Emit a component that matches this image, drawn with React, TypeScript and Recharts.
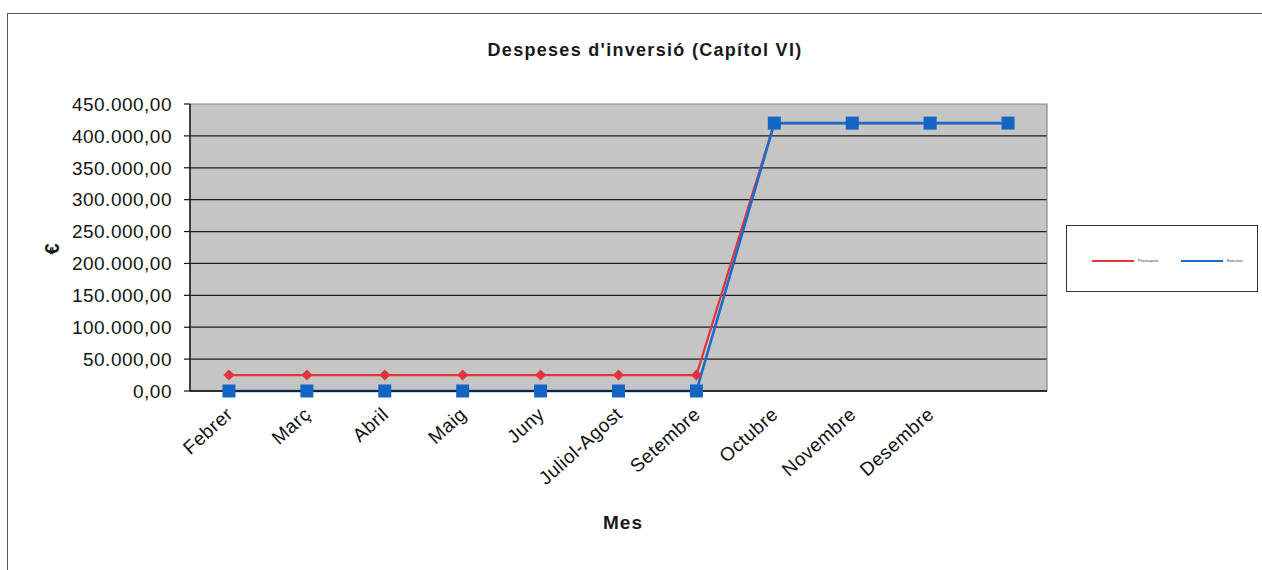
import React from 'react';
import { LineChart, Line, XAxis, YAxis, CartesianGrid, ReferenceArea } from 'recharts';

const months = ['Febrer', 'Març', 'Abril', 'Maig', 'Juny', 'Juliol-Agost', 'Setembre', 'Octubre', 'Novembre', 'Desembre', ''];
const pressupostValues = [25000, 25000, 25000, 25000, 25000, 25000, 25000, 420000, 420000, 420000, 420000];
const executatValues = [0, 0, 0, 0, 0, 0, 0, 420000, 420000, 420000, 420000];
const yTicks = [0, 50000, 100000, 150000, 200000, 250000, 300000, 350000, 400000, 450000];
const xBoundaries = [0, 1, 2, 3, 4, 5, 6, 7, 8, 9, 10, 11];
const seriesNames = ['Pressupost', 'Executat'];
const seriesColors = ['#e2353b', '#1b6cc9'];
const title = "Despeses d'inversió (Capítol VI)";
const xTitle = 'Mes';
const yTitle = '€';

const data = months.map((m, i) => ({
  pos: i + 0.5,
  month: m,
  pressupost: pressupostValues[i],
  executat: executatValues[i],
}));

const FONT = '"Liberation Sans", Arial, sans-serif';
const TOP = 104;

const fmt = (v: number) => v.toString().replace(/\B(?=(\d{3})+(?!\d))/g, '.') + ',00';

const CatTick = (props: any) => {
  const { x, y, payload } = props;
  const idx = Math.floor(payload.value);
  const label = months[idx] ?? '';
  return (
    <g transform={`translate(${x + 5},${y + 22}) rotate(-42)`}>
      <text x={0} y={0} textAnchor="end" fontSize={19} letterSpacing={0.5} fill="#111" fontFamily={FONT}>
        {label}
      </text>
    </g>
  );
};

const Diamond = (p: any) => {
  const { cx, cy, index } = p;
  if (cx == null || cy == null) return <g key={`d-${index}`} />;
  const r = 5.5;
  return (
    <path
      key={`d-${index}`}
      d={`M${cx},${cy - r}L${cx + r},${cy}L${cx},${cy + r}L${cx - r},${cy}Z`}
      fill={seriesColors[0]}
    />
  );
};

const Square = (p: any) => {
  const { cx, cy, index } = p;
  if (cx == null || cy == null) return <g key={`s-${index}`} />;
  const s = 6.5;
  return <rect key={`s-${index}`} x={cx - s} y={cy - s} width={2 * s} height={2 * s} fill="#1464c4" />;
};

const HLine = (props: any) => {
  const { x1, y1, x2, y2, index } = props;
  if (y1 < TOP + 1) return <g key={`hl-${index}`} />;
  return <line key={`hl-${index}`} x1={x1} y1={y1} x2={x2} y2={y2} stroke="#1e1e1e" strokeWidth={1.2} />;
};

export default function App() {
  return (
    <div style={{ position: 'relative', width: 1262, height: 570, overflow: 'hidden', background: '#fff', fontFamily: FONT }}>
      <style>{'body{margin:0;}'}</style>
      <div
        style={{
          position: 'absolute',
          left: 7,
          top: 13,
          width: 1300,
          height: 600,
          borderLeft: '1.5px solid #555',
          borderTop: '1.5px solid #555',
        }}
      />
      <div style={{ position: 'absolute', left: 0, top: 0 }}>
        <LineChart width={1262} height={570} data={data} margin={{ top: TOP, right: 215, left: 0, bottom: 0 }}>
          <CartesianGrid xAxisId="axisB" vertical={false} horizontal={HLine} fill="#c5c5c5" />
          <ReferenceArea xAxisId="axisB" x1={0} x2={11} y1={0} y2={450000} fill="none" stroke="#8a8a8a" strokeWidth={1.2} />
          <XAxis
            xAxisId="axisB"
            dataKey="pos"
            type="number"
            domain={[0, 11]}
            ticks={data.map((d) => d.pos)}
            interval={0}
            height={178}
            tickSize={0}
            tickLine={false}
            axisLine={false}
            tick={<CatTick />}
            allowDataOverflow
          />
          <XAxis
            xAxisId="axisA"
            type="number"
            domain={[0, 11]}
            ticks={xBoundaries}
            height={1}
            tick={false}
            tickSize={5}
            tickLine={{ stroke: '#111', strokeWidth: 1.2 }}
            axisLine={{ stroke: '#111', strokeWidth: 1.4 }}
            allowDataOverflow
          />
          <YAxis
            type="number"
            domain={[0, 450000]}
            ticks={yTicks}
            interval={0}
            width={190}
            tickSize={6}
            tickMargin={12}
            tickFormatter={fmt}
            tick={{ fontSize: 19, fill: '#151515', fontFamily: FONT, letterSpacing: 0.5 }}
            tickLine={{ stroke: '#111', strokeWidth: 1.2 }}
            axisLine={{ stroke: '#111', strokeWidth: 1.4 }}
          />
          <Line
            xAxisId="axisB"
            type="linear"
            dataKey="pressupost"
            name={seriesNames[0]}
            stroke={seriesColors[0]}
            strokeWidth={2.2}
            dot={Diamond}
            activeDot={false}
            isAnimationActive={false}
          />
          <Line
            xAxisId="axisB"
            type="linear"
            dataKey="executat"
            name={seriesNames[1]}
            stroke={seriesColors[1]}
            strokeWidth={2.6}
            dot={Square}
            activeDot={false}
            isAnimationActive={false}
          />
        </LineChart>
      </div>
      <svg width={1262} height={570} style={{ position: 'absolute', left: 0, top: 0, pointerEvents: 'none' }}>
        <text x={645} y={56} textAnchor="middle" fontSize={18} fontWeight="bold" letterSpacing={1.3} fill="#1a1a1a" fontFamily={FONT}>
          {title}
        </text>
        <text x={623} y={529} textAnchor="middle" fontSize={19} fontWeight="bold" letterSpacing={1} fill="#1a1a1a" fontFamily={FONT}>
          {xTitle}
        </text>
        <text
          x={0}
          y={0}
          transform="translate(59,249) rotate(-90)"
          textAnchor="middle"
          fontSize={20}
          fontWeight="bold"
          fill="#1a1a1a"
          fontFamily={FONT}
        >
          {yTitle}
        </text>
      </svg>
      <div
        style={{
          position: 'absolute',
          left: 1066,
          top: 225,
          width: 192,
          height: 67,
          border: '1.5px solid #333',
          background: '#fff',
          boxSizing: 'border-box',
        }}
      >
        {seriesNames.map((n, i) => (
          <div
            key={n}
            style={{ position: 'absolute', left: 25 + i * 89, top: 33, display: 'flex', alignItems: 'center' }}
          >
            <div style={{ width: 42, height: 2.5, background: seriesColors[i] }} />
            <span style={{ marginLeft: 4, fontSize: 4, color: '#333', lineHeight: '4px' }}>{n}</span>
          </div>
        ))}
      </div>
    </div>
  );
}
